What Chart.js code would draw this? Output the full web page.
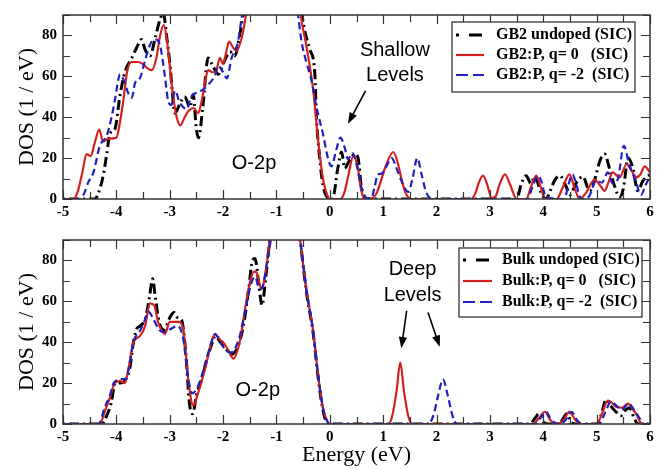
<!DOCTYPE html>
<html>
<head>
<meta charset="utf-8">
<script src="https://cdn.jsdelivr.net/npm/chart.js@4.4.0/dist/chart.umd.min.js"></script>
<style>
  html, body { margin: 0; padding: 0; background: #fff; }
  .panel { position: absolute; left: 0; width: 669px; }
</style>
</head>
<body>
<div class="panel" style="top:0;height:225px"><canvas id="topChart"></canvas></div>
<div class="panel" style="top:225px;height:244px"><canvas id="bottomChart"></canvas></div>
<script>
// energy (eV), DOS (1/eV)
const gb2Undoped = [[-5,0],[-4.4,0],[-4.35,2],[-4.25,11],[-4.18,22],[-4.12,32],[-4.03,34],[-3.93,51],[-3.84,62],[-3.71,69],
  [-3.62,74],[-3.53,78],[-3.46,73],[-3.37,70],[-3.28,78],[-3.18,88],[-3.12,91],[-3.06,80],[-3,67],[-2.9,42],
  [-2.82,46],[-2.72,50],[-2.62,45],[-2.56,51],[-2.5,34],[-2.46,30],[-2.38,45],[-2.28,69],[-2.19,65],[-2.09,61],
  [-2,66],[-1.87,72],[-1.78,70],[-1.69,80],[-1.62,91],[-1.5,110],[-1,130],[-0.6,105],[-0.53,91],[-0.45,80],
  [-0.37,73],[-0.28,61],[-0.25,40],[-0.19,20],[-0.13,7],[-0.05,1],[0.05,0],[0.15,15],[0.22,23],[0.28,15],
  [0.35,18],[0.47,22],[0.53,20],[0.59,6],[0.7,0],[3.5,0],[3.59,7.6],[3.68,11.4],[3.77,7.6],[3.84,11],
  [3.96,3],[4.05,0],[4.13,4],[4.21,9],[4.31,11.4],[4.43,6],[4.5,2],[4.62,8],[4.74,11],[4.87,4],
  [4.96,9],[5.06,18.6],[5.15,22],[5.24,15],[5.34,6],[5.43,1],[5.5,5],[5.59,20],[5.68,15],[5.77,4],[5.87,9],[6,12]];

const gb2Pq0 = [[-5,0],[-4.8,0],[-4.72,4],[-4.63,14],[-4.56,22],[-4.48,21],[-4.4,28],[-4.32,34],[-4.25,28],[-4.15,29.5],
  [-4,30],[-3.93,38],[-3.87,48],[-3.8,62],[-3.72,67],[-3.6,67],[-3.5,66],[-3.42,64],[-3.34,63],[-3.25,69],
  [-3.18,80],[-3.11,85],[-3.04,75],[-2.95,53],[-2.87,40],[-2.8,36],[-2.72,40],[-2.65,43],[-2.55,44.5],[-2.47,42],
  [-2.4,48],[-2.34,57],[-2.28,63],[-2.2,62],[-2.14,62],[-2.06,69],[-2,66],[-1.94,72],[-1.89,77],[-1.81,74],
  [-1.75,72.5],[-1.65,79],[-1.56,92],[-1.5,105],[-1,130],[-0.6,105],[-0.55,91],[-0.44,75],[-0.31,53],[-0.22,29],
  [-0.13,10],[-0.05,2],[0,0],[0.2,0],[0.27,3],[0.34,10.6],[0.44,21],[0.52,16],[0.59,4],[0.66,0],
  [0.8,0.5],[0.88,3],[0.96,9],[1.06,17],[1.19,23],[1.28,17],[1.35,9],[1.42,3],[1.52,0],[2.65,0],
  [2.73,3],[2.8,8.5],[2.87,11.4],[2.95,7],[3.03,0.5],[3.1,1],[3.18,7],[3.28,12],[3.38,7],[3.5,0],
  [3.68,0],[3.77,6],[3.87,11.4],[3.95,6],[4.03,0],[4.25,0],[4.37,6],[4.49,12],[4.58,6],[4.68,0],
  [4.8,3],[4.96,9.5],[5.07,6.5],[5.15,4],[5.22,8],[5.3,13],[5.43,10.6],[5.56,17],[5.65,14],[5.74,10.6],
  [5.82,12],[5.9,16],[6,13]];

const gb2Pqm2 = [[-5,0],[-4.68,0],[-4.6,3],[-4.53,8],[-4.43,13],[-4.31,26],[-4.18,31],[-4.09,40],[-4.03,48],[-3.93,61],
  [-3.86,58],[-3.78,52],[-3.71,49.5],[-3.65,56.7],[-3.56,59],[-3.46,68],[-3.34,77],[-3.25,78],[-3.18,75],[-3.09,60],
  [-3.03,48],[-2.97,46],[-2.9,53],[-2.81,47],[-2.68,44],[-2.6,50],[-2.5,52],[-2.41,53],[-2.31,55],[-2.15,60.6],
  [-2.09,65],[-2,62],[-1.93,59],[-1.84,69],[-1.72,77],[-1.65,89],[-1.58,98],[-1,130],[-0.65,100],[-0.59,89],
  [-0.53,77],[-0.44,67],[-0.34,57.6],[-0.25,45],[-0.13,32],[-0.03,19.5],[0.03,16],[0.12,24],[0.2,30],[0.28,25],
  [0.34,19.5],[0.43,22.5],[0.5,17],[0.59,6],[0.7,0.5],[0.78,0.5],[0.84,6],[0.9,12],[0.97,12.4],[1.06,16],
  [1.16,20],[1.25,15],[1.34,9],[1.47,3.5],[1.55,10],[1.64,20],[1.72,12],[1.81,3],[1.95,0],[3.7,0],
  [3.8,6],[3.9,11.4],[3.96,9],[4.05,1],[4.4,0],[4.46,6],[4.55,12],[4.62,7],[4.71,0],[4.85,1],
  [4.99,9],[5.1,8],[5.21,13],[5.3,7.6],[5.4,10],[5.51,26],[5.6,18],[5.74,8],[5.83,2],[5.92,7],[6,11]];

const bulkUndoped = [[-5,0],[-4.27,0],[-4.2,3],[-4.1,10],[-4.02,20],[-3.93,20],[-3.85,21],[-3.75,27],[-3.68,40],[-3.62,46.5],
  [-3.55,48],[-3.45,52],[-3.38,62],[-3.32,71],[-3.27,62],[-3.2,50],[-3.1,46],[-3,52],[-2.92,54.5],[-2.85,52],
  [-2.78,51],[-2.7,35],[-2.63,10],[-2.57,5],[-2.5,14],[-2.4,22],[-2.3,32],[-2.2,40],[-2.15,43],[-2.05,40],
  [-1.95,37],[-1.85,34],[-1.72,38],[-1.62,48],[-1.52,66],[-1.45,80],[-1.4,81],[-1.33,68],[-1.27,58],[-1.2,72],
  [-1.12,91],[-1,110],[-0.7,120],[-0.56,91],[-0.44,65],[-0.31,44],[-0.22,23],[-0.13,7],[-0.03,0],[3.75,0],
  [3.85,3],[3.92,5],[4,1],[4.1,0],[4.3,0],[4.38,3],[4.44,5],[4.52,1],[4.6,0],[5,0],
  [5.08,4],[5.18,12],[5.26,9],[5.36,6],[5.45,4],[5.55,7],[5.62,8],[5.7,3],[5.78,0],[6,0]];

const bulkPq0 = [[-5,0],[-4.31,0],[-4.21,6.7],[-4.12,13],[-4.03,20],[-3.93,21],[-3.84,20],[-3.78,26],[-3.68,40],[-3.56,43],
  [-3.46,48],[-3.37,59],[-3.29,58],[-3.22,50],[-3.09,44],[-3,50],[-2.84,50],[-2.75,47],[-2.65,21],[-2.56,9],
  [-2.47,15],[-2.4,21],[-2.31,30],[-2.22,40],[-2.15,44],[-2.05,41],[-2,40],[-1.9,36],[-1.81,32],[-1.69,40],
  [-1.59,56],[-1.5,69],[-1.42,74.5],[-1.37,74],[-1.28,66],[-1.19,77],[-1.12,91],[-1,110],[-0.7,120],[-0.56,91],
  [-0.44,66],[-0.31,45],[-0.22,24],[-0.13,8],[-0.03,0.5],[0,0],[1.1,0],[1.17,4],[1.25,16],[1.32,30],
  [1.39,16],[1.47,4],[1.55,0],[3.8,0],[3.92,3],[4.03,6],[4.13,2],[4.25,0],[4.38,2],[4.49,6],
  [4.6,2],[4.7,0],[5,0],[5.1,5],[5.21,11.5],[5.3,10],[5.37,8.3],[5.48,8],[5.59,10],[5.68,7],[5.74,5],[5.85,0],[6,0]];

const bulkPqm2 = [[-5,0],[-4.33,0],[-4.22,8],[-4.12,14],[-4.05,20],[-3.9,22],[-3.82,22],[-3.75,30],[-3.68,40],[-3.55,46],
  [-3.48,50],[-3.4,55],[-3.3,51],[-3.2,46],[-3.1,45],[-2.95,47],[-2.85,48],[-2.75,42],[-2.65,22],[-2.58,15],
  [-2.48,18],[-2.35,28],[-2.22,40],[-2.15,44],[-2.05,40],[-1.95,36],[-1.85,35],[-1.7,42],[-1.58,56],[-1.47,69],
  [-1.4,72],[-1.32,66],[-1.25,68],[-1.17,80],[-1.1,91],[-1,110],[-0.7,120],[-0.56,91],[-0.44,66],[-0.31,45],
  [-0.22,24],[-0.13,8],[-0.03,0.5],[0,0],[1.85,0],[1.95,5],[2.03,14],[2.12,21.8],[2.21,14],[2.3,4],
  [2.38,0],[3.85,0],[3.95,3],[4.05,6],[4.15,2],[4.3,0],[4.42,2],[4.53,6],[4.63,2],[4.73,0],
  [5.05,0],[5.15,5],[5.27,11],[5.37,9],[5.47,7],[5.6,10],[5.7,7],[5.8,3],[5.9,0],[6,0]];

const topLabels = ['GB2 undoped (SIC)', 'GB2:P, q= 0   (SIC)', 'GB2:P, q= -2  (SIC)'];
const bottomLabels = ['Bulk undoped (SIC)', 'Bulk:P, q= 0   (SIC)', 'Bulk:P, q= -2  (SIC)'];
const xMin = -5, xMax = 6, yMax = 90;

const serif = '"Liberation Serif", "Times New Roman", serif';
const sans = '"Liberation Sans", Arial, sans-serif';

// inward ticks on all four sides + frame
const frameTicks = {
  id: 'frameTicks',
  afterDraw(chart) {
    const { ctx, chartArea: a, scales: { x, y } } = chart;
    ctx.save();
    ctx.strokeStyle = '#333';
    ctx.lineWidth = 1.2;
    ctx.beginPath();
    for (let v = xMin; v <= xMax; v += 0.5) {
      const px = Math.round(x.getPixelForValue(v)) + 0.5;
      const len = Number.isInteger(v) ? 9 : 7;
      ctx.moveTo(px, a.bottom); ctx.lineTo(px, a.bottom - len);
      ctx.moveTo(px, a.top); ctx.lineTo(px, a.top + len);
    }
    for (let v = 0; v <= yMax; v += 10) {
      const py = Math.round(y.getPixelForValue(v)) + 0.5;
      const len = v % 20 === 0 ? 9 : 7;
      ctx.moveTo(a.left, py); ctx.lineTo(a.left + len, py);
      ctx.moveTo(a.right, py); ctx.lineTo(a.right - len, py);
    }
    ctx.stroke();
    ctx.lineWidth = 1.5;
    ctx.strokeRect(a.left, a.top, a.right - a.left, a.bottom - a.top);
    ctx.restore();
  }
};

const boxLegend = {
  id: 'boxLegend',
  afterDraw(chart, args, o) {
    const ctx = chart.ctx;
    ctx.save();
    ctx.fillStyle = '#fff';
    ctx.fillRect(o.x, o.y, o.w, o.h);
    ctx.strokeStyle = '#333';
    ctx.lineWidth = 1.3;
    ctx.strokeRect(o.x, o.y, o.w, o.h);
    chart.data.datasets.forEach((ds, i) => {
      const yy = o.y + o.row0 + i * o.gap;
      ctx.strokeStyle = ds.borderColor;
      ctx.lineWidth = ds.borderWidth;
      ctx.setLineDash(ds.legendDash || ds.borderDash || []);
      ctx.beginPath();
      ctx.moveTo(o.x + o.s0, yy);
      ctx.lineTo(o.x + o.s1, yy);
      ctx.stroke();
      ctx.setLineDash([]);
      ctx.fillStyle = '#000';
      ctx.font = 'bold 16px ' + serif;
      ctx.textBaseline = 'middle';
      ctx.fillText(ds.label, o.x + o.tx, yy);
    });
    ctx.restore();
  }
};

const notes = {
  id: 'notes',
  afterDraw(chart, args, o) {
    const { ctx, scales: { x, y } } = chart;
    ctx.save();
    ctx.fillStyle = '#000';
    ctx.font = '20px ' + sans;
    ctx.textAlign = 'center';
    ctx.textBaseline = 'middle';
    o.texts.forEach(t => ctx.fillText(t[0], x.getPixelForValue(t[1]), y.getPixelForValue(t[2])));
    ctx.strokeStyle = '#000';
    ctx.lineWidth = 1.6;
    o.arrows.forEach(r => {
      const x0 = x.getPixelForValue(r[0]), y0 = y.getPixelForValue(r[1]);
      const x1 = x.getPixelForValue(r[2]), y1 = y.getPixelForValue(r[3]);
      const ang = Math.atan2(y1 - y0, x1 - x0);
      ctx.beginPath();
      ctx.moveTo(x0, y0);
      ctx.lineTo(x1 - 8 * Math.cos(ang), y1 - 8 * Math.sin(ang));
      ctx.stroke();
      ctx.beginPath();
      ctx.moveTo(x1, y1);
      ctx.lineTo(x1 - 12 * Math.cos(ang - 0.35), y1 - 12 * Math.sin(ang - 0.35));
      ctx.lineTo(x1 - 12 * Math.cos(ang + 0.35), y1 - 12 * Math.sin(ang + 0.35));
      ctx.closePath();
      ctx.fill();
    });
    ctx.restore();
  }
};

function toPoints(arr) {
  return arr.map(p => ({ x: p[0], y: p[1] }));
}

function makeSets(labels, black, red, blue) {
  return [
    { label: labels[0], data: toPoints(black), borderColor: '#000', borderWidth: 3, borderDash: [2, 4, 10, 4], legendDash: [3, 10, 13, 20], order: 3 },
    { label: labels[1], data: toPoints(red), borderColor: '#d42020', borderWidth: 2.2, order: 2 },
    { label: labels[2], data: toPoints(blue), borderColor: '#2020c0', borderWidth: 2.2, borderDash: [7, 4], legendDash: [12, 5], order: 1 }
  ];
}

function makeChart(id, datasets, xAxisHeight, showXTitle, legendBox, noteOpts) {
  return new Chart(document.getElementById(id), {
    type: 'line',
    data: { datasets },
    options: {
      responsive: true,
      maintainAspectRatio: false,
      animation: false,
      layout: { padding: { top: 10, right: 19, left: 0, bottom: 0 } },
      elements: { point: { radius: 0 }, line: { cubicInterpolationMode: 'monotone', fill: false } },
      plugins: { legend: { display: false }, tooltip: { enabled: false }, boxLegend: legendBox, notes: noteOpts },
      scales: {
        x: {
          type: 'linear', min: xMin, max: xMax,
          grid: { display: false, drawTicks: false },
          border: { display: false },
          ticks: { stepSize: 1, padding: 4, color: '#000', font: { family: serif, size: 15, weight: 'bold' } },
          title: { display: showXTitle, text: 'Energy (eV)', color: '#000', padding: { top: 0, bottom: 1 }, font: { family: serif, size: 22 } },
          afterFit: s => { s.height = xAxisHeight; }
        },
        y: {
          min: 0, max: yMax,
          grid: { display: false, drawTicks: false },
          border: { display: false },
          ticks: { stepSize: 20, padding: 6, color: '#000', font: { family: serif, size: 15, weight: 'bold' } },
          afterBuildTicks: s => { s.ticks = s.ticks.filter(t => t.value % 20 === 0); },
          title: { display: true, text: 'DOS (1 / eV)', color: '#000', padding: { top: 14, bottom: 0 }, font: { family: serif, size: 22 } },
          afterFit: s => { s.width = 63; }
        }
      }
    },
    plugins: [frameTicks, boxLegend, notes]
  });
}

makeChart('topChart', makeSets(topLabels, gb2Undoped, gb2Pq0, gb2Pqm2), 26, false,
  { x: 452, y: 22, w: 183, h: 70, row0: 13, gap: 20, s0: 4, s1: 32, tx: 44 },
  { texts: [['Shallow', 1.22, 72.4], ['Levels', 1.22, 60.5], ['O-2p', -1.42, 17.6]],
    arrows: [[0.67, 52.9, 0.34, 36.8]] });

makeChart('bottomChart', makeSets(bottomLabels, bulkUndoped, bulkPq0, bulkPqm2), 45, true,
  { x: 459, y: 23, w: 183, h: 69, row0: 12, gap: 21, s0: 4, s1: 33, tx: 43 },
  { texts: [['Deep', 1.55, 75.4], ['Levels', 1.55, 62.9], ['O-2p', -1.35, 16.3]],
    arrows: [[1.44, 55.4, 1.34, 37], [1.84, 54.5, 2.06, 37.8]] });
</script>
</body>
</html>
